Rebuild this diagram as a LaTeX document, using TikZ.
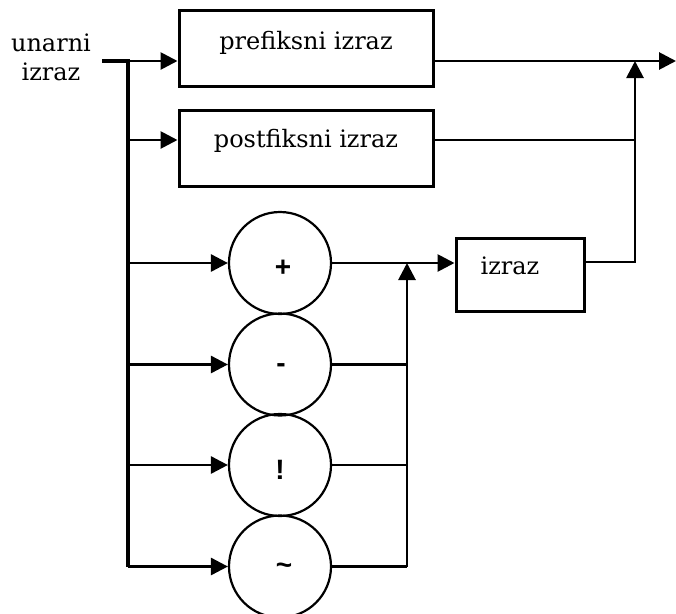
\documentclass[tikz,border=0pt]{standalone}
\usepackage{fontspec}
\setmainfont{DejaVu Serif}
\newfontfamily\symfont{Liberation Sans}
\usetikzlibrary{arrows.meta}
\begin{document}
\begin{tikzpicture}[x=1pt,y=-1pt,
  wire/.style={line width=2.8pt},
  arr/.style={wire,-{Triangle[length=17pt,width=17pt]}},
  box/.style={draw,line width=3pt,minimum width=254pt,minimum height=76pt,inner sep=0pt},
  opcircle/.style={draw,circle,line width=2.2pt,minimum size=102pt,inner sep=0pt},
  lbl/.style={font=\fontsize{24}{29}\selectfont},
  oplbl/.style={font=\symfont\bfseries\fontsize{28}{30}\selectfont}]
\useasboundingbox (0,0) rectangle (676,613);

% boxes
\node[box] (pre) at (306,48) {};
\node[lbl] at (306,43) {prefiksni izraz};
\node[box] (post) at (306,148.5) {};
\node[lbl] at (306,141) {postfiksni izraz};
\node[draw,line width=3pt,minimum width=128pt,minimum height=73pt,inner sep=0pt] (iz) at (520,274.5) {};
\node[lbl] at (510,266) {izraz};

% operator circles
\node[opcircle] (plus) at (280,263) {};
\node[oplbl] at (283,268) {+};
\node[opcircle] (minus) at (280,364.5) {};
\node[oplbl] at (281,368) {-};
\node[opcircle] (excl) at (280,465) {};
\node[oplbl] at (280,470) {!};
\node[opcircle] (tilde) at (280,566.5) {};
\node[oplbl] at (284,569) {\char"007E};

% entry label
\node[lbl,align=center,inner sep=0pt] (in) at (51,57) {unarni\\izraz};

% coordinates of junctions
\coordinate (start) at (102,61);
\coordinate (t1) at (128,61);
\coordinate (t2) at (128,140);
\coordinate (t3) at (128,263);
\coordinate (t4) at (128,364.5);
\coordinate (t5) at (128,465);
\coordinate (t6) at (128,566.5);
\coordinate (r1) at (407,263);
\coordinate (r6) at (407,566.5);
\coordinate (o1) at (635,61);
\coordinate (o2) at (635,140);
\coordinate (o3) at (635,262);
\coordinate (out) at (676,61);

% main trunk
\draw[line width=3.4pt] (start) -- (t1) -- (t6);
\draw[arr] (t1) -- (pre.west|-t1);
\draw[arr] (t2) -- (post.west|-t2);
\draw[arr] (t3) -- (plus.west);
\draw[arr] (t4) -- (minus.west);
\draw[arr] (t5) -- (excl.west);
\draw[arr] (t6) -- (tilde.west);

% right collector of operators
\draw[wire] (minus.east) -- (minus.east-|r1);
\draw[wire] (excl.east) -- (excl.east-|r1);
\draw[wire] (tilde.east) -- (r6);
\draw[arr] (r6) -- (r1);
\draw[arr] (plus.east) -- (iz.west|-plus.east);

% outputs
\draw[arr] (pre.east|-o1) -- (out);
\draw[wire] (post.east|-o2) -- (o2);
\draw[wire] (iz.east|-o3) -- (o3) -- (o2);
\draw[arr] (o2) -- (o1);
\end{tikzpicture}
\end{document}
